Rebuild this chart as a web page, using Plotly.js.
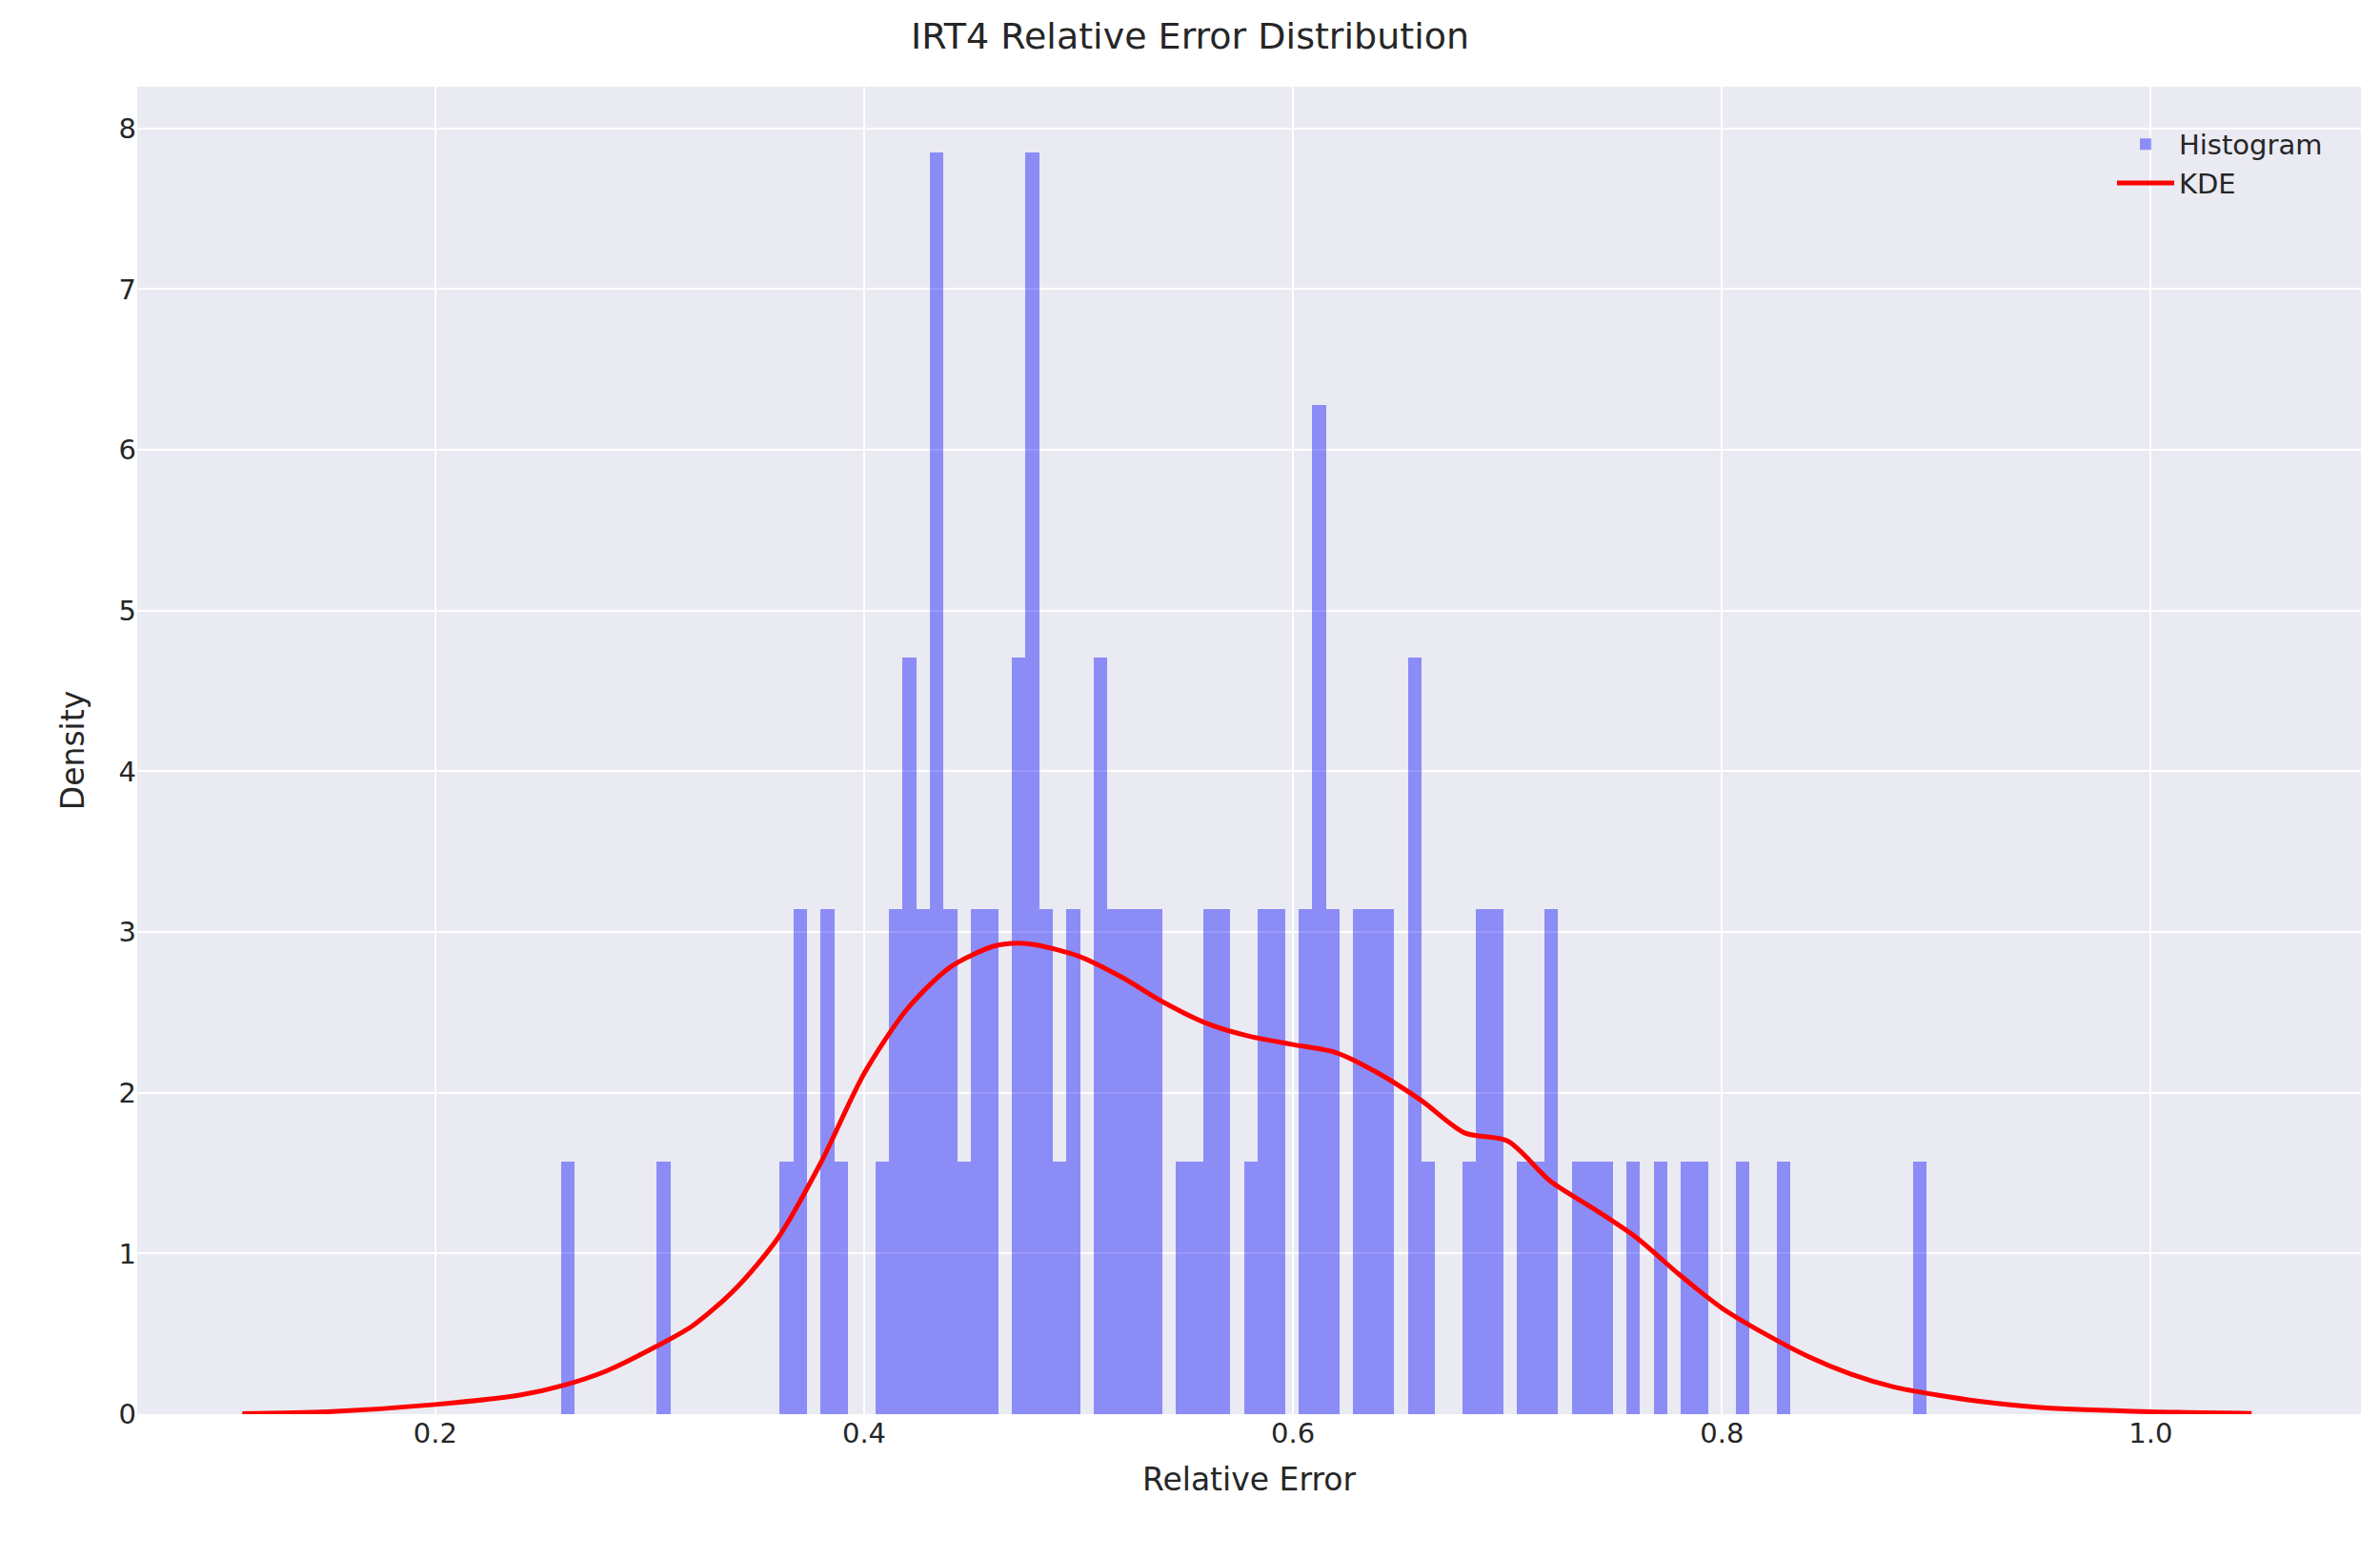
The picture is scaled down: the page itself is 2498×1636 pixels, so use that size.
<!DOCTYPE html>
<html>
<head>
<meta charset="utf-8">
<script src="https://cdn.plot.ly/plotly-3.0.1.min.js"></script>
<style>
  html, body { margin: 0; padding: 0; background: #fff; }
  #chart { width: 2498px; height: 1636px; }
</style>
</head>
<body>
<div id="chart"></div>
<script>
// ── Histogram data (100 bins, counts) ──
const BIN_START = 0.2587;
const BIN_END   = 0.8956;
const COUNTS = [
  1,0,0,0,0,0,0,1,0,0, 0,0,0,0,0,0,
  1,2,0,2,1,0,0,1,2,3, 2,5,2,1,2,2,0,3,5,2,
  1,2,0,3,2,2,2,2,0,1, 1,2,2,0,1,2,2,0,2,4,
  2,0,2,2,2,0,3,1,0,0, 1,2,2,0,1,1,2,0,1,1,
  1,0,1,0,1,0,1,1,0,0, 1,0,0,1,0,0,0,0,0,0,
  0,0,0,1,
];

// ── KDE curve ──
const KDE_X = [0.11,0.15,0.20,0.24,0.26,0.28,0.30,0.32,0.34,0.36,0.38,0.40,0.42,0.44,0.46,0.472,0.48,0.50,0.52,0.54,0.56,0.58,0.60,0.62,0.64,0.66,0.68,0.70,0.72,0.74,0.76,0.78,0.80,0.82,0.84,0.86,0.88,0.90,0.92,0.95,1.00,1.047];
const KDE_Y = [0.003,0.015,0.06,0.12,0.18,0.27,0.40,0.55,0.78,1.10,1.57,2.12,2.52,2.78,2.91,2.93,2.92,2.85,2.72,2.56,2.43,2.35,2.30,2.25,2.12,1.95,1.75,1.70,1.45,1.28,1.10,0.87,0.66,0.50,0.36,0.25,0.17,0.12,0.08,0.04,0.015,0.005];

const N = COUNTS.reduce((a, b) => a + b, 0);
const W = (BIN_END - BIN_START) / COUNTS.length;
const binX = COUNTS.map((_, i) => BIN_START + (i + 0.5) * W);
const density = COUNTS.map(c => c / (N * W));

const FONT = 'DejaVu Sans, Liberation Sans, sans-serif';

const traces = [
  {
    type: 'bar', name: 'Histogram',
    x: binX, y: density, width: W,
    marker: { color: 'rgba(0,0,255,0.4)', line: { width: 0 } },
  },
  {
    type: 'scatter', mode: 'lines', name: 'KDE',
    x: KDE_X, y: KDE_Y,
    line: { color: '#ff0000', width: 5, shape: 'spline', smoothing: 0.8 },
  },
];

const axisBase = {
  showgrid: true, gridcolor: '#ffffff', gridwidth: 2,
  zeroline: false, showline: false, ticks: '',
  tickfont: { size: 29, color: '#262626', family: FONT },
};

const layout = {
  width: 2498, height: 1636,
  paper_bgcolor: '#ffffff', plot_bgcolor: '#eaeaf2',
  margin: { l: 144, r: 20, t: 91, b: 152 },
  bargap: 0,
  title: { text: 'IRT4 Relative Error Distribution', font: { size: 38, color: '#262626', family: FONT }, x: 0.5, xanchor: 'center', y: 0.977, yanchor: 'middle' },
  xaxis: { ...axisBase, range: [0.061, 1.098], tickvals: [0.2, 0.4, 0.6, 0.8, 1.0], ticktext: ['0.2','0.4','0.6','0.8','1.0'],
    title: { text: 'Relative Error', font: { size: 33, color: '#262626', family: FONT }, standoff: 20 } },
  yaxis: { ...axisBase, range: [0, 8.26], dtick: 1,
    title: { text: 'Density', font: { size: 33, color: '#262626', family: FONT }, standoff: 25 } },
  legend: { x: 0.985, y: 0.975, xanchor: 'right', yanchor: 'top', bgcolor: 'rgba(0,0,0,0)',
    font: { size: 29, color: '#262626', family: FONT }, itemwidth: 60, tracegroupgap: 10 },
  showlegend: true,
};

Plotly.newPlot('chart', traces, layout, { displayModeBar: false, staticPlot: true });
</script>
</body>
</html>
